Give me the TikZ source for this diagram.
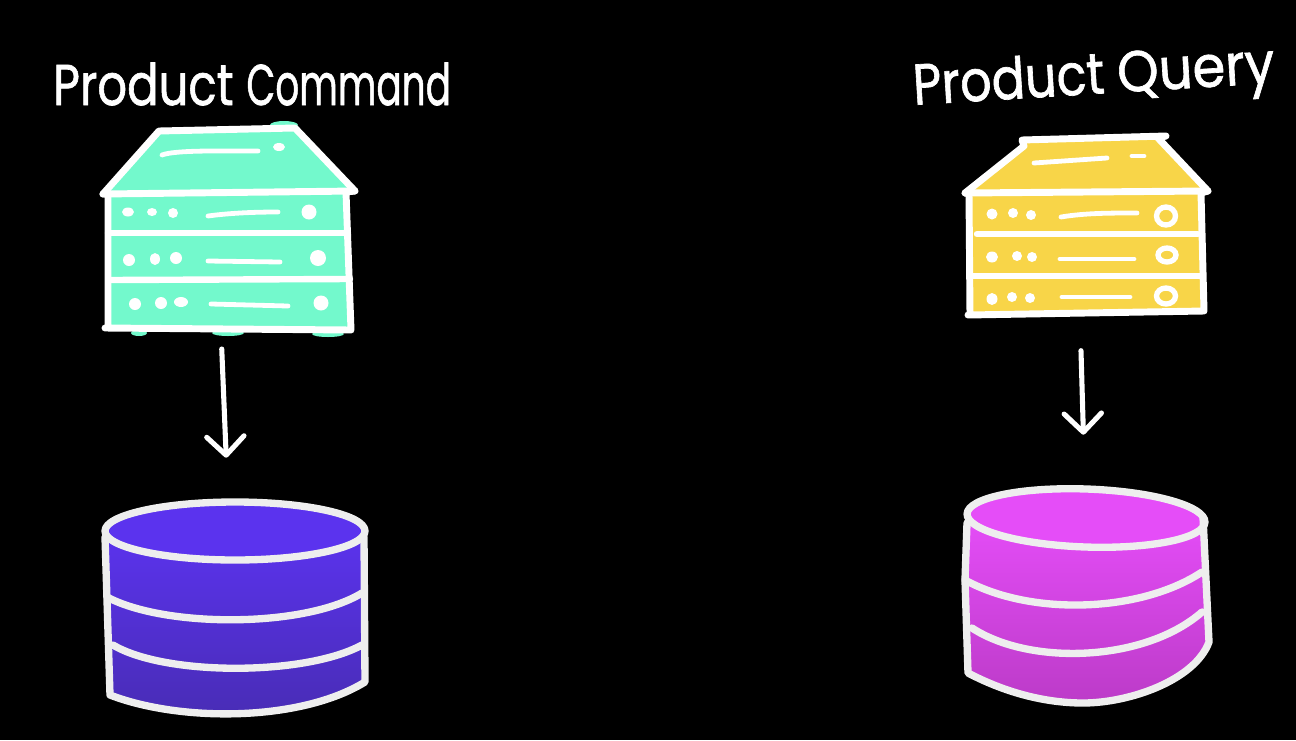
\documentclass[tikz,border=0pt]{standalone}
\usepackage{fontspec}
\setmainfont{Poppins}[FakeBold=1.2]
\usetikzlibrary{arrows.meta}
\definecolor{mint}{HTML}{73F9CC}
\definecolor{sun}{HTML}{F8D548}
\definecolor{inkw}{HTML}{FFFFFF}
\definecolor{rimw}{HTML}{EEEEEE}
\definecolor{violetTop}{RGB}{91,51,238}
\definecolor{violetLow}{RGB}{72,44,180}
\definecolor{magTop}{RGB}{229,77,248}
\definecolor{magLow}{RGB}{188,59,200}
\tikzset{
  x=0.75pt,y=-0.75pt,
  anchorbox/.style={draw=none,fill=none,inner sep=0pt,outer sep=0pt,minimum width=#1},
  title/.style={text=inkw,inner sep=0pt,font=\fontsize{36}{40}\selectfont},
  outline/.style={draw=inkw,line width=5.2pt,line join=round,line cap=round},
  shelf/.style={draw=inkw,line width=4.8pt,line cap=round},
  slot/.style={draw=inkw,line width=3.6pt,line cap=round},
  pip/.style={fill=inkw,draw=none},
  ring/.style={draw=inkw,line width=4pt,fill=sun},
  rim/.style={draw=rimw,line width=5.5pt,line join=round,line cap=round},
  flow/.style={draw=inkw,line width=3.8pt,line cap=round,-{Straight Barb[length=14pt,width=28pt,round,line width=3.8pt]}},
}
\begin{document}
\begin{tikzpicture}
\fill[black] (0,0) rectangle (1296,740);
\useasboundingbox (0,0) rectangle (1296,740);

% invisible nodes that carry the connectors
\node[anchorbox=187.5pt,minimum height=153pt] (srvA) at (230,229) {};
\node[anchorbox=180pt,minimum height=136pt] (srvB) at (1087,226) {};
\node[anchorbox=195pt,minimum height=160pt] (dbA) at (235,607) {};
\node[anchorbox=183pt,minimum height=160pt] (dbB) at (1086,596) {};

% titles
\node[title] (tA) at (252,84) {\scalebox{0.97}[1.2]{Product} \scalebox{0.78}[1.2]{Command}};
\node[title,rotate=3.5] (tB) at (1094,80) {\scalebox{1.03}[1.2]{Product} \scalebox{1.1}[1.2]{Query}};

% --- mint server
\fill[mint] (284,125) ellipse (14 and 4);
\fill[mint] (139,333) ellipse (8 and 3);
\fill[mint] (228,333) ellipse (16 and 3);
\fill[mint] (328,334) ellipse (16 and 3);
\path[outline,fill=mint] (159,131) -- (295,128) -- (355,191) -- (346,192) -- (351,330) -- (105,328) -- (108,328) -- (108,194) -- (103,194) -- cycle;
\draw[outline] (103,194) -- (355,191);
\draw[shelf] (108,233) -- (348,233);
\draw[shelf] (109,280) -- (350,279);
\draw[slot] (162,155) .. controls (175,150) and (220,151) .. (258,151);
\fill[pip] (279,147) ellipse (6 and 4);
\fill[pip] (128,212) ellipse (6 and 4.5);
\fill[pip] (152,212) ellipse (5 and 4);
\fill[pip] (173,213) ellipse (5 and 5);
\draw[slot] (208,216) .. controls (230,213) and (255,212) .. (278,212);
\fill[pip] (309,212) circle (7.5);
\fill[pip] (129,260) ellipse (6 and 6);
\fill[pip] (155,259) ellipse (5 and 6);
\fill[pip] (176,258) circle (6);
\draw[slot] (208,261) -- (280,262);
\fill[pip] (318,258) circle (8);
\fill[pip] (135,304) circle (6);
\fill[pip] (161,303) ellipse (6 and 6);
\fill[pip] (181,302) ellipse (7 and 5);
\draw[slot] (211,304) -- (288,306);
\fill[pip] (321,303) circle (7.5);

% --- yellow server
\path[outline,fill=sun] (965,193) -- (1024,146) -- (1022,140) -- (1166,136) -- (1158,138) -- (1208,191) -- (1201,193) -- (1204,311) -- (968,315) -- (970,315) -- (969,194) -- cycle;
\draw[outline] (965,193) -- (1208,191);
\draw[shelf] (977,234) -- (1198,234);
\draw[shelf] (973,276) -- (1202,276);
\draw[slot] (1034,163) -- (1107,158);
\draw[slot] (1132,156) -- (1144,156);
\fill[pip] (992,214) circle (5.5);
\fill[pip] (1013,213) circle (5);
\fill[pip] (1031,215) circle (5);
\draw[slot] (1061,217) .. controls (1085,213) and (1110,213) .. (1137,213);
\draw[ring] (1166,216) ellipse (9.5 and 9);
\fill[pip] (992,257) ellipse (6 and 5.5);
\fill[pip] (1017,256) circle (5);
\fill[pip] (1032,257) circle (5);
\draw[slot] (1060,259) -- (1134,259);
\draw[ring] (1167,255) ellipse (9 and 7);
\fill[pip] (992,299) ellipse (5.5 and 6);
\fill[pip] (1012,297) circle (5);
\fill[pip] (1030,298) circle (5);
\draw[slot] (1062,297) -- (1130,297);
\draw[ring] (1166,296) ellipse (9.5 and 8);

% --- violet database
\path[top color=violetTop,bottom color=violetLow]
  (105,531) -- (110,695) .. controls (180,722) and (300,722) .. (365,682) -- (365,531) -- cycle;
\fill[violetTop] (235,531) ellipse (130 and 29);
\draw[rim] (105,537) -- (107,600) -- (110,695) .. controls (180,722) and (300,722) .. (365,682) -- (364,537);
\draw[rim] (235,531) ellipse (130 and 29);
\draw[rim] (107,597) .. controls (165,628) and (305,628) .. (362,593);
\draw[rim] (113,645) .. controls (165,676) and (305,676) .. (362,645);

% --- magenta database
\path[top color=magTop,bottom color=magLow]
  (967,520) -- (968,673) .. controls (1010,695) and (1050,703) .. (1083,703) .. controls (1130,703) and (1195,680) .. (1209,642) -- (1203,515) -- cycle;
\fill[magTop,rotate around={-2:(1086,518)}] (1086,518) ellipse (119 and 29);
\draw[rim] (967,523) -- (965,580) -- (968,673) .. controls (1010,695) and (1050,703) .. (1083,703) .. controls (1130,703) and (1195,680) .. (1209,642) -- (1203,517);
\draw[rim,rotate around={-2:(1086,518)}] (1086,518) ellipse (119 and 29);
\draw[rim] (965,580) .. controls (1030,616) and (1140,613) .. (1202,572);
\draw[rim] (972,628) .. controls (1030,666) and (1145,662) .. (1202,612);

% --- connectors
\draw[flow,shorten <=13.5pt,shorten >=32pt] ([xshift=-6.75pt]srvA.south) -- ([xshift=-5.25pt]dbA.north);
\draw[flow,shorten <=25.5pt,shorten >=41pt] ([xshift=-5.25pt]srvB.south) -- ([xshift=-0.75pt]dbB.north);
\end{tikzpicture}
\end{document}
